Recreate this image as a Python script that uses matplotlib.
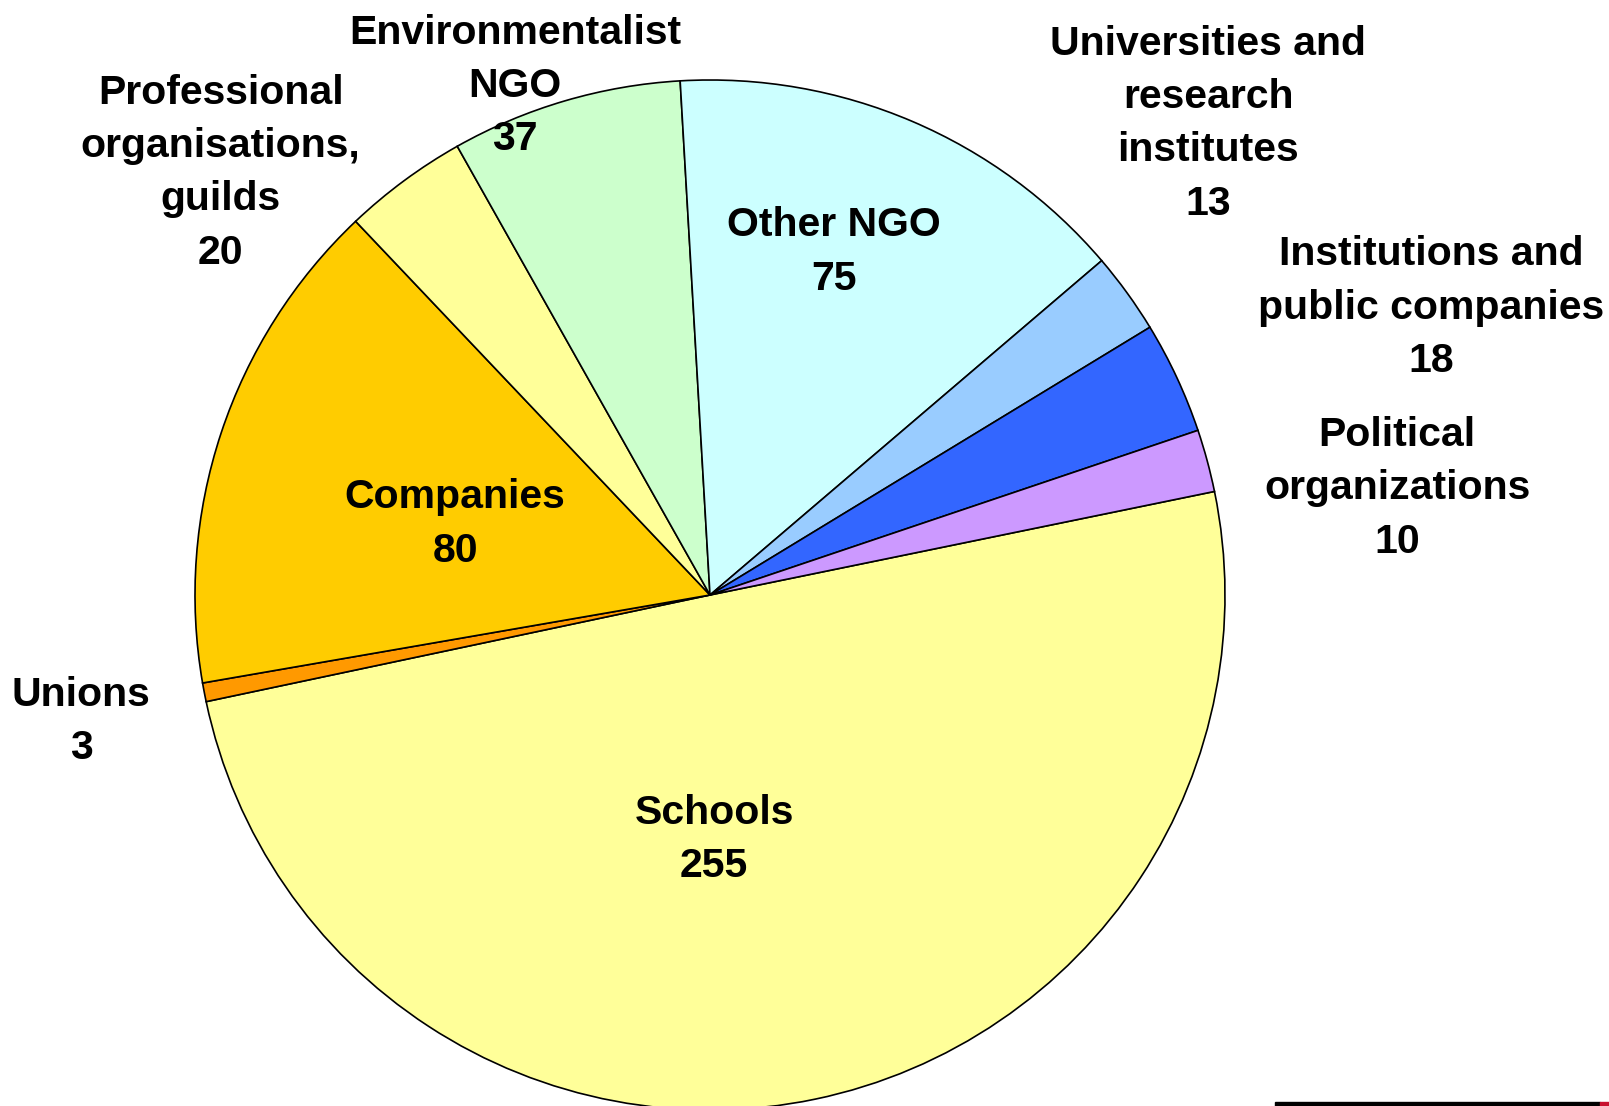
import matplotlib
matplotlib.use("Agg")
import matplotlib.pyplot as plt
from matplotlib.patches import Rectangle

# ---- data ----
categories = ["Schools", "Unions", "Companies", "Professional\norganisations,\nguilds",
              "Environmentalist\nNGO", "Other NGO", "Universities and\nresearch\ninstitutes",
              "Institutions and\npublic companies", "Political\norganizations"]
values = [255, 3, 80, 20, 37, 75, 13, 18, 10]
colors = ["#FFFF99", "#FF9900", "#FFCC00", "#FFFF99", "#CCFFCC", "#CCFFFF",
          "#99CCFF", "#3366FF", "#CC99FF"]

# ---- layout (label centres in pie-radius units) ----
label_pos = [(0.008, -0.475), (-1.221, -0.246), (-0.495, 0.138), (-0.950, 0.820),
             (-0.379, 0.988), (0.241, 0.666), (0.967, 0.915), (1.400, 0.558),
             (1.334, 0.207)]

W, H, DPI = 1609, 1106, 100
cx, cy, R = 710, 595, 515

fig = plt.figure(figsize=(W / DPI, H / DPI), dpi=DPI)
ax = fig.add_axes([0, 0, 1, 1])
ax.pie(values, colors=colors, startangle=11.6, counterclock=False,
       wedgeprops=dict(edgecolor="black", linewidth=1.2),
       radius=1.0, center=(0, 0), frame=False)
ax.set_xlim(-cx / R, (W - cx) / R)
ax.set_ylim(-(H - cy) / R, cy / R)
ax.set_aspect("auto")
ax.axis("off")

for cat, val, (x, y) in zip(categories, values, label_pos):
    ax.text(x, y, f"{cat}\n{val}", ha="center", va="center", multialignment="center",
            fontsize=29.5, fontweight="bold", family=["Liberation Sans", "DejaVu Sans"],
            linespacing=1.51, color="black")

# decorative bar at bottom right
fig.patches.append(Rectangle((1275 / W, 0), (1600 - 1275) / W, 4 / H,
                             transform=fig.transFigure, color="black", zorder=5))
fig.patches.append(Rectangle((1600 / W, 0), 9 / W, 4 / H,
                             transform=fig.transFigure, color="#C8102E", zorder=5))

fig.savefig("out.png", dpi=DPI)
